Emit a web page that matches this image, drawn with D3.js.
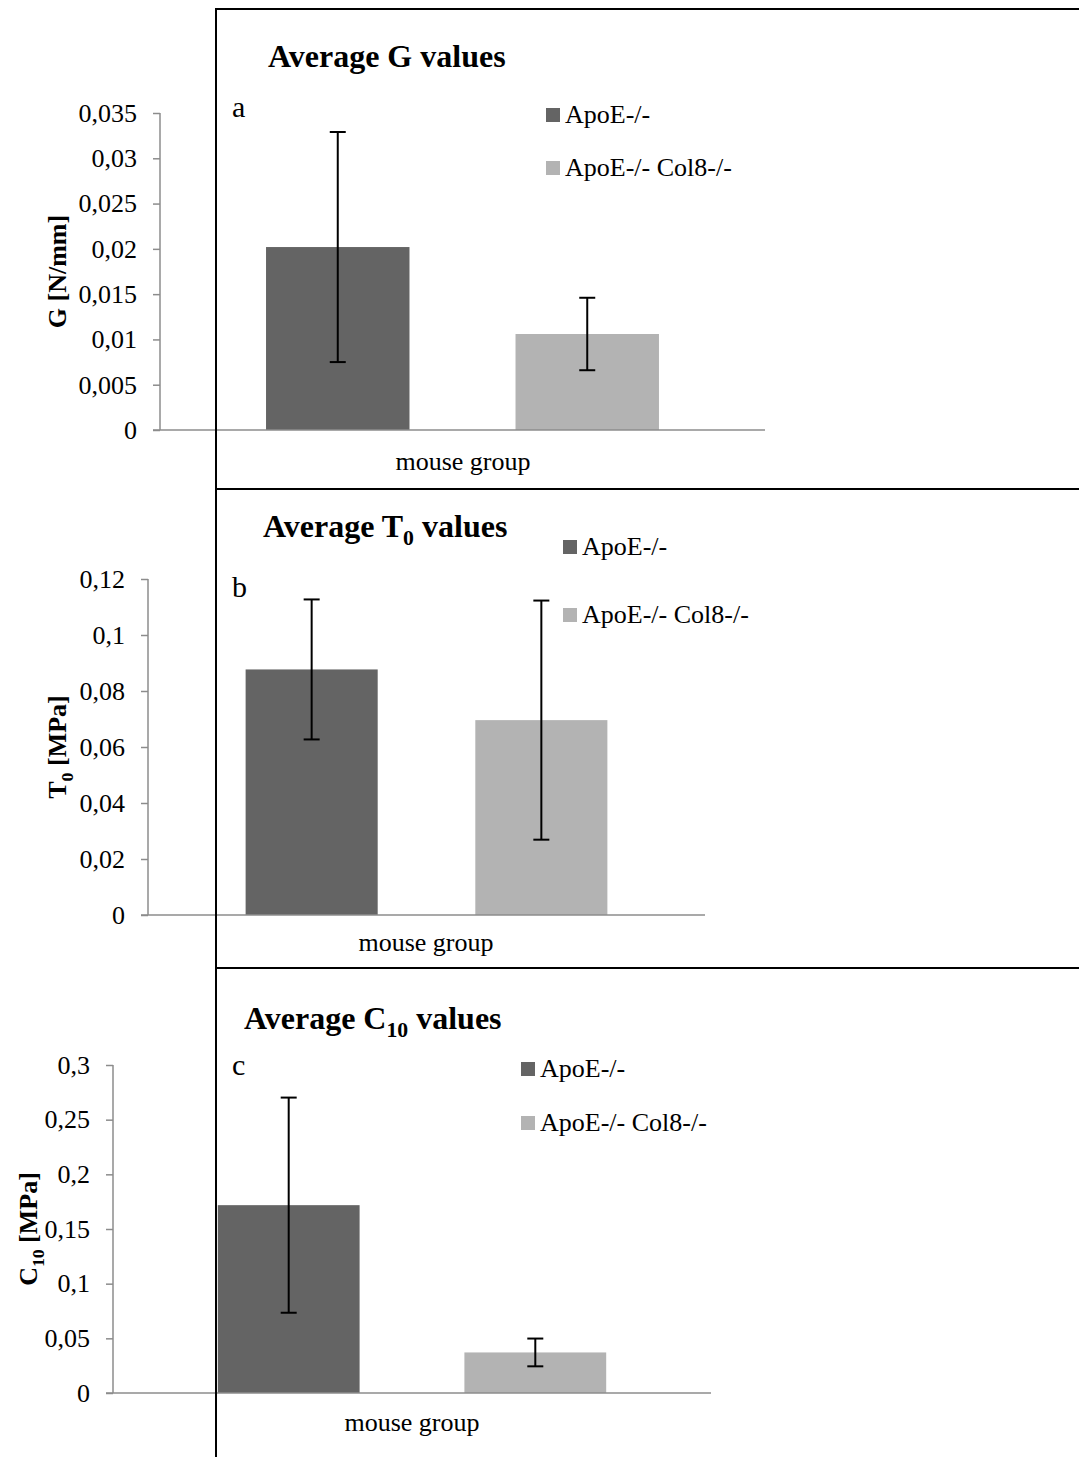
<!DOCTYPE html>
<html><head><meta charset="utf-8">
<script src="https://cdn.jsdelivr.net/npm/d3@7"></script>
<style>html,body{margin:0;padding:0;background:#fff;} text{font-family:"Liberation Serif","Times New Roman",serif;fill:#000;}</style>
</head><body>
<svg id="chart" width="1079" height="1457"></svg>
<script>
// ---- data ----
const groups = ["ApoE-/-", "ApoE-/- Col8-/-"];
const gMeans = [0.0202, 0.0106];
const gErrors = [0.0127, 0.0040];
const t0Means = [0.0877, 0.0696];
const t0Errors = [0.0250, 0.0427];
const c10Means = [0.1718, 0.0371];
const c10Errors = [0.0984, 0.0127];
const gTicks = [0, 0.005, 0.01, 0.015, 0.02, 0.025, 0.03, 0.035];
const t0Ticks = [0, 0.02, 0.04, 0.06, 0.08, 0.1, 0.12];
const c10Ticks = [0, 0.05, 0.1, 0.15, 0.2, 0.25, 0.3];
const xAxisTitle = "mouse group";

const colors = ["#646464", "#b3b3b3"];
const locale = d3.formatLocale({decimal: ",", thousands: ".", grouping: [3], currency: ["", "€"]});
const fmt = locale.format("~g");

const svg = d3.select("#chart");

const panels = [
  {means: gMeans, errs: gErrors, ticks: gTicks, letter: "a",
   title: ["Average G values"], ytitle: ["G [N/mm]"],
   ax: 160, right: 765, top: 113, bottom: 430,
   titleX: 268, titleY: 67, letterY: 117, ytX: 66, xtX: 463, xtY: 470,
   legX: 546, legY: [108, 161]},
  {means: t0Means, errs: t0Errors, ticks: t0Ticks, letter: "b",
   title: ["Average T", "0", " values"], ytitle: ["T", "0", " [MPa]"],
   ax: 148, right: 705, top: 579, bottom: 915,
   titleX: 263, titleY: 537, letterY: 597, ytX: 66, xtX: 426, xtY: 951,
   legX: 563, legY: [540, 608]},
  {means: c10Means, errs: c10Errors, ticks: c10Ticks, letter: "c",
   title: ["Average C", "10", " values"], ytitle: ["C", "10", " [MPa]"],
   ax: 113, right: 711, top: 1065, bottom: 1393,
   titleX: 244, titleY: 1029, letterY: 1075, ytX: 37, xtX: 412, xtY: 1431,
   legX: 521, legY: [1062, 1116]}
];

function addParts(sel, parts, size) {
  parts.forEach((p, i) => {
    const t = sel.append("tspan").text(p);
    if (i === 1) t.attr("font-size", size * 0.68).attr("dy", size * 0.25);
    if (i === 2) t.attr("dy", -size * 0.25);
  });
}

panels.forEach(P => {
  const g = svg.append("g");
  const maxV = P.ticks[P.ticks.length - 1];
  const y = d3.scaleLinear().domain([0, maxV]).range([P.bottom, P.top]);
  const x = d3.scaleBand().domain(groups).range([P.ax, P.right]).paddingInner(0.425).paddingOuter(0.425);

  // y axis
  const yAxis = d3.axisLeft(y).tickValues(P.ticks).tickFormat(fmt).tickSize(7).tickPadding(16);
  const ya = g.append("g").attr("transform", `translate(${P.ax},0)`).call(yAxis);
  ya.select(".domain").attr("stroke", "#8c8c8c").attr("stroke-width", 1.5).attr("d", `M0,${P.top}V${P.bottom}`);
  ya.selectAll(".tick line").attr("stroke", "#8c8c8c").attr("stroke-width", 1.5);
  ya.selectAll(".tick text").attr("font-size", 26).attr("font-family", "Liberation Serif").attr("fill", "#000");

  // bars
  g.selectAll("rect.bar").data(groups).join("rect")
    .attr("x", d => x(d)).attr("width", x.bandwidth())
    .attr("y", (d, i) => y(P.means[i])).attr("height", (d, i) => y(0) - y(P.means[i]))
    .attr("fill", (d, i) => colors[i]);

  // x baseline
  g.append("line").attr("x1", P.ax - 7).attr("x2", P.right).attr("y1", y(0)).attr("y2", y(0))
    .attr("stroke", "#8c8c8c").attr("stroke-width", 1.5);

  // error bars
  groups.forEach((d, i) => {
    const cx = x(d) + x.bandwidth() / 2;
    const hi = y(P.means[i] + P.errs[i]), lo = y(P.means[i] - P.errs[i]);
    g.append("line").attr("x1", cx).attr("x2", cx).attr("y1", hi).attr("y2", lo).attr("stroke", "#000").attr("stroke-width", 2);
    [hi, lo].forEach(yy => g.append("line").attr("x1", cx - 8).attr("x2", cx + 8).attr("y1", yy).attr("y2", yy).attr("stroke", "#000").attr("stroke-width", 2));
  });

  // title
  const tt = g.append("text").attr("x", P.titleX).attr("y", P.titleY).attr("font-size", 32).attr("font-weight", "bold");
  addParts(tt, P.title, 32);

  // y axis title
  const yt = g.append("text").attr("transform", `translate(${P.ytX},${(P.top + P.bottom) / 2}) rotate(-90)`)
    .attr("text-anchor", "middle").attr("font-size", 26).attr("font-weight", "bold");
  addParts(yt, P.ytitle, 26);

  // panel letter
  g.append("text").attr("x", 232).attr("y", P.letterY).attr("font-size", 30).text(P.letter);

  // x axis title
  g.append("text").attr("x", P.xtX).attr("y", P.xtY).attr("text-anchor", "middle").attr("font-size", 26).text(xAxisTitle);

  // legend
  groups.forEach((d, i) => {
    g.append("rect").attr("x", P.legX).attr("y", P.legY[i]).attr("width", 14).attr("height", 14).attr("fill", colors[i]);
    g.append("text").attr("x", P.legX + 19).attr("y", P.legY[i] + 15).attr("font-size", 26).text(d);
  });
});

// frame lines
const frame = svg.append("g").attr("stroke", "#000").attr("stroke-width", 2);
frame.append("line").attr("x1", 216).attr("x2", 216).attr("y1", 8).attr("y2", 1457);
[9, 489, 968].forEach(yy => frame.append("line").attr("x1", 215).attr("x2", 1079).attr("y1", yy).attr("y2", yy));
</script>
</body></html>
